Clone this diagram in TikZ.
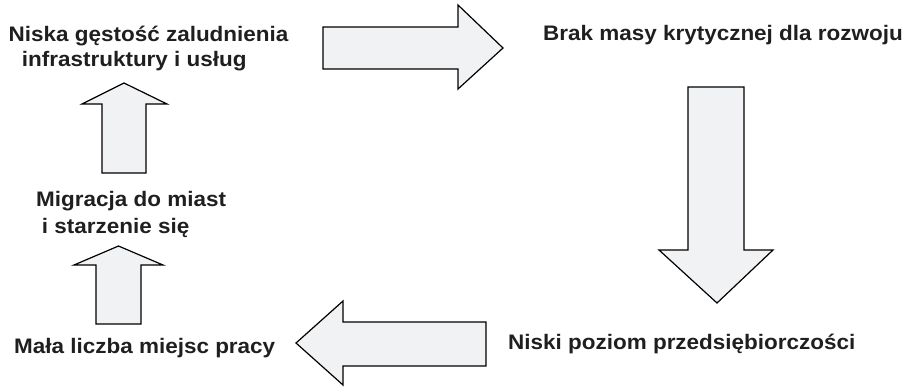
\documentclass[tikz,border=0pt]{standalone}
\usepackage{fontspec}
\setmainfont{Liberation Sans}[FakeStretch=1.07]
\definecolor{arrowfill}{HTML}{F1F2F4}
\begin{document}
\begin{tikzpicture}[x=1pt,y=-1pt,
  blockarrow/.style={fill=arrowfill,draw=black,line width=1.2pt,line join=miter},
  lbl/.style={anchor=base west,inner sep=0pt,font=\fontsize{21}{25}\selectfont\bfseries,text=black!88}]
\useasboundingbox (0,0) rectangle (915,386);
% arrows
\draw[blockarrow] (323,27) -- (458,27) -- (458,5) -- (503,48) -- (458,89) -- (458,69) -- (323,69) -- cycle;
\draw[blockarrow] (688,87) -- (744,87) -- (744,250) -- (773,250) -- (717,303) -- (659,250) -- (688,250) -- cycle;
\draw[blockarrow] (486,322) -- (343,322) -- (343,301) -- (296,343) -- (343,385) -- (343,366) -- (486,366) -- cycle;
\draw[blockarrow] (102,173) -- (102,104) -- (82,104) -- (124,83) -- (167,104) -- (146,104) -- (146,173) -- cycle;
\draw[blockarrow] (96,324) -- (96,265) -- (74,265) -- (118.5,246) -- (163,265) -- (141,265) -- (141,324) -- cycle;
% labels
\node[lbl] (t1a) at (8.5,41.7) {Niska gęstość zaludnienia};
\node[lbl] (t1b) at (21.7,66.7) {infrastruktury i usług};
\node[lbl] (t2) at (543,40) {Brak masy krytycznej dla rozwoju};
\node[lbl] (t3) at (508,349.5) {Niski poziom przedsiębiorczości};
\node[lbl] (t4) at (14,353) {Mała liczba miejsc pracy};
\node[lbl] (t5a) at (36,206.7) {Migracja do miast};
\node[lbl] (t5b) at (41.7,233) {i starzenie się};
\end{tikzpicture}
\end{document}
